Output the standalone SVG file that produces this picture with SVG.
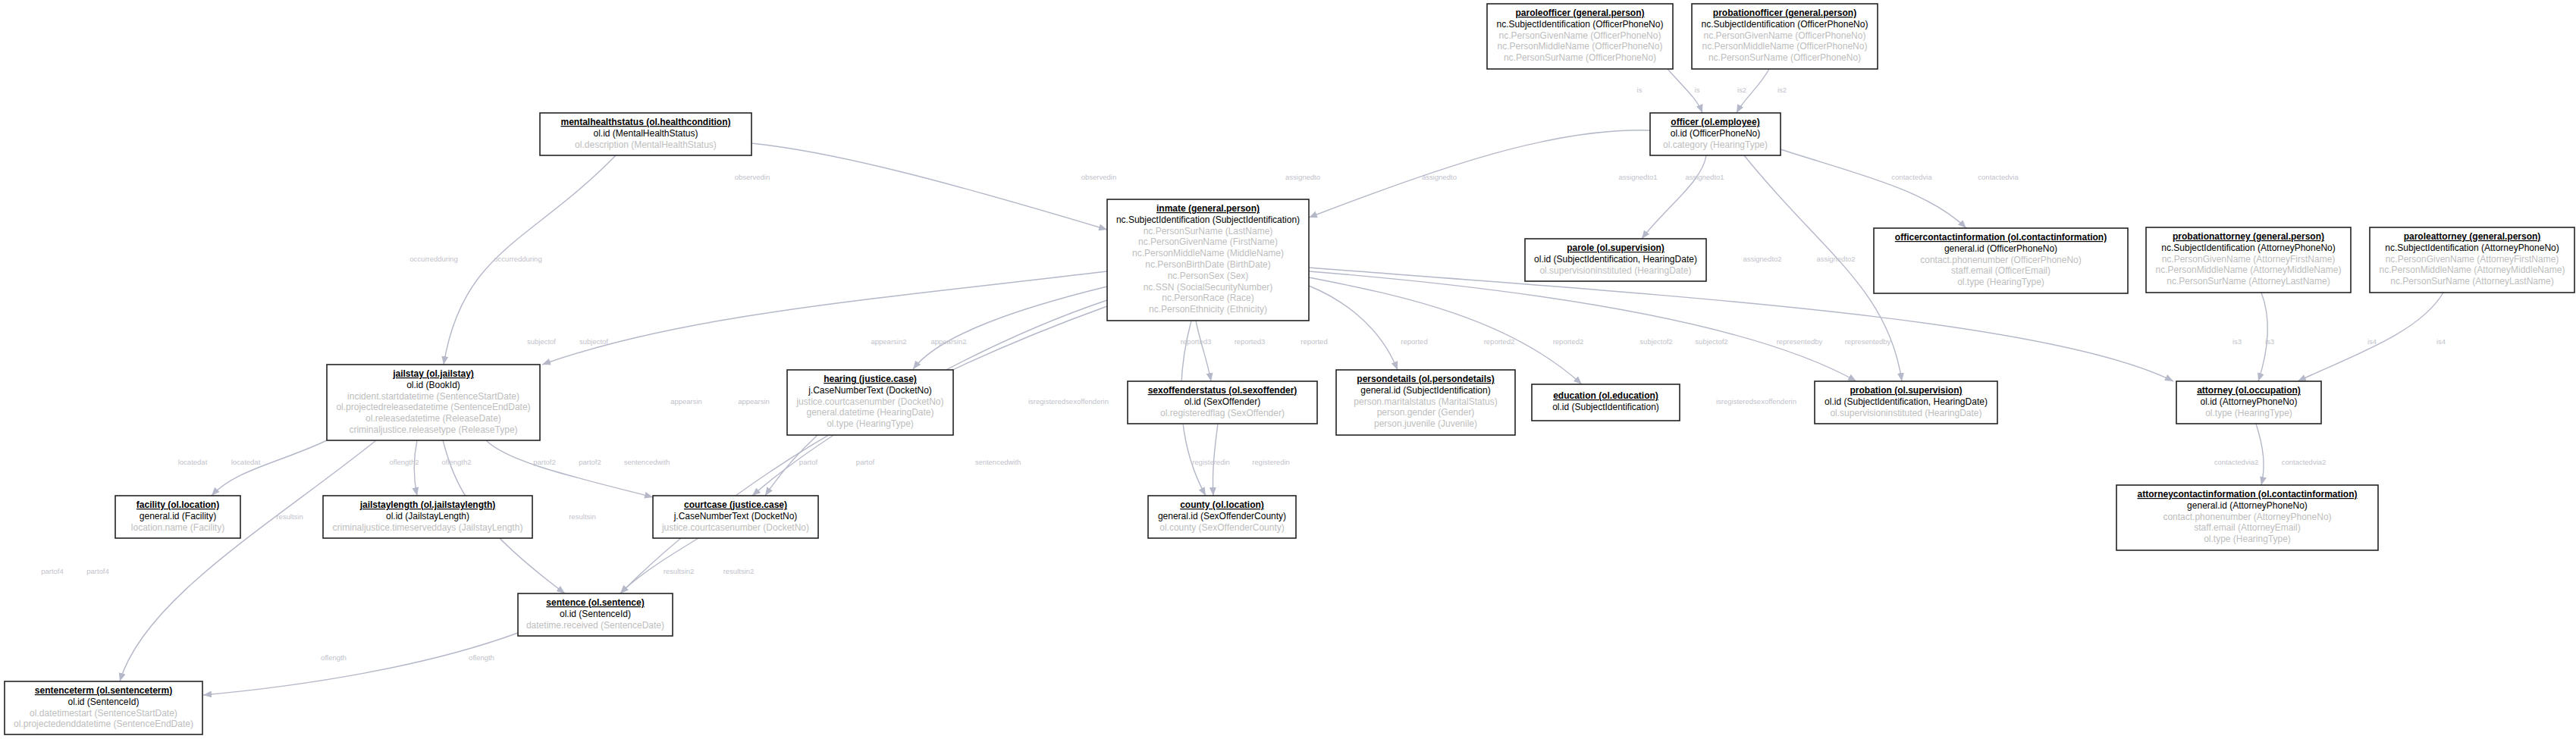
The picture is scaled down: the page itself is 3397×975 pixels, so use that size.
<svg xmlns="http://www.w3.org/2000/svg" width="3397" height="975" viewBox="0 0 3397 975">
<style>
text{font-family:"Liberation Sans",Arial,Helvetica,sans-serif;text-anchor:middle}
.box{fill:#fff;stroke:#222;stroke-width:1.6}
.t{font-size:12px;font-weight:bold;text-decoration:underline;fill:#000}
.k{font-size:12px;fill:#000}
.a{font-size:12px;fill:#bdbdbd}
.l{font-size:9.5px;fill:#bfc2cb}
.e{fill:none;stroke:#b4b8c8;stroke-width:1.4;marker-end:url(#arr)}
</style>
<defs>
<marker id="arr" markerUnits="userSpaceOnUse" markerWidth="12" markerHeight="10" refX="11" refY="4.5" orient="auto"><path d="M0,0 L11,4.5 L0,9 z" fill="#b4b8c8"/></marker>
</defs>
<rect width="3397" height="975" fill="#fff"/>
<g id="connectors">
<path class="e" d="M2199,91 C2220,115 2238,130 2245,149"/>
<path class="e" d="M2333,91 C2320,115 2300,130 2290,149"/>
<path class="e" d="M2176,172 C2050,168 1900,220 1726,287"/>
<path class="e" d="M2250,205 C2245,240 2195,275 2165,315"/>
<path class="e" d="M2300,205 C2400,330 2490,380 2508,503"/>
<path class="e" d="M2348,197 C2450,230 2540,250 2593,301"/>
<path class="e" d="M2982,386 C2995,420 2992,460 2978,503"/>
<path class="e" d="M3222,386 C3190,440 3100,470 3030,503"/>
<path class="e" d="M2975,559 C2985,590 2988,615 2982,640"/>
<path class="e" d="M812,205 C700,320 610,330 585,481"/>
<path class="e" d="M991,189 C1100,200 1250,240 1460,303"/>
<path class="e" d="M1460,358 C1150,395 900,415 715,481"/>
<path class="e" d="M1460,378 C1350,405 1240,440 1204,487"/>
<path class="e" d="M1460,396 C1300,450 1100,560 992,654"/>
<path class="e" d="M1460,404 C1250,480 1000,600 818,783"/>
<path class="e" d="M1577,423 C1582,450 1592,475 1597,503"/>
<path class="e" d="M1571,423 C1545,520 1560,600 1590,654"/>
<path class="e" d="M1606,559 C1602,590 1598,620 1600,654"/>
<path class="e" d="M1726,377 C1770,395 1820,430 1843,488"/>
<path class="e" d="M1726,366 C1850,390 1990,420 2086,507"/>
<path class="e" d="M1726,358 C2000,380 2300,420 2448,503"/>
<path class="e" d="M1726,353 C2200,390 2700,420 2866,503"/>
<path class="e" d="M431,581 C370,610 310,620 279,654"/>
<path class="e" d="M496,581 C360,690 190,790 158,899"/>
<path class="e" d="M550,581 C545,605 545,630 550,654"/>
<path class="e" d="M584,581 C600,640 620,690 745,783"/>
<path class="e" d="M641,581 C670,610 760,630 861,656"/>
<path class="e" d="M1078,574 C1050,600 1025,630 1009,654"/>
<path class="e" d="M921,710 C880,735 840,760 818,783"/>
<path class="e" d="M683,835 C560,880 400,905 268,917"/>
<text class="l" x="2162" y="122">is</text><text class="l" x="2238" y="122">is</text>
<text class="l" x="2297" y="122">is2</text><text class="l" x="2350" y="122">is2</text>
<text class="l" x="992" y="237">observedin</text><text class="l" x="1449" y="237">observedin</text>
<text class="l" x="1718" y="237">assignedto</text><text class="l" x="1898" y="237">assignedto</text>
<text class="l" x="2160" y="237">assignedto1</text><text class="l" x="2248" y="237">assignedto1</text>
<text class="l" x="2521" y="237">contactedvia</text><text class="l" x="2635" y="237">contactedvia</text>
<text class="l" x="572" y="345">occurredduring</text><text class="l" x="683" y="345">occurredduring</text>
<text class="l" x="2324" y="345">assignedto2</text><text class="l" x="2421" y="345">assignedto2</text>
<text class="l" x="714" y="454">subjectof</text><text class="l" x="783" y="454">subjectof</text>
<text class="l" x="1172" y="454">appearsin2</text><text class="l" x="1251" y="454">appearsin2</text>
<text class="l" x="1577" y="454">reported3</text><text class="l" x="1648" y="454">reported3</text>
<text class="l" x="1733" y="454">reported</text><text class="l" x="1865" y="454">reported</text>
<text class="l" x="1977" y="454">reported2</text><text class="l" x="2068" y="454">reported2</text>
<text class="l" x="2184" y="454">subjectof2</text><text class="l" x="2257" y="454">subjectof2</text>
<text class="l" x="2373" y="454">representedby</text><text class="l" x="2463" y="454">representedby</text>
<text class="l" x="2950" y="454">is3</text><text class="l" x="2993" y="454">is3</text>
<text class="l" x="3128" y="454">is4</text><text class="l" x="3219" y="454">is4</text>
<text class="l" x="905" y="533">appearsin</text><text class="l" x="994" y="533">appearsin</text>
<text class="l" x="1409" y="533">isregisteredsexoffenderin</text><text class="l" x="2316" y="533">isregisteredsexoffenderin</text>
<text class="l" x="254" y="613">locatedat</text><text class="l" x="324" y="613">locatedat</text>
<text class="l" x="533" y="613">oflength2</text><text class="l" x="602" y="613">oflength2</text>
<text class="l" x="718" y="613">partof2</text><text class="l" x="778" y="613">partof2</text>
<text class="l" x="853" y="613">sentencedwith</text><text class="l" x="1316" y="613">sentencedwith</text>
<text class="l" x="1066" y="613">partof</text><text class="l" x="1141" y="613">partof</text>
<text class="l" x="1597" y="613">registeredin</text><text class="l" x="1676" y="613">registeredin</text>
<text class="l" x="2949" y="613">contactedvia2</text><text class="l" x="3038" y="613">contactedvia2</text>
<text class="l" x="382" y="685">resultsin</text><text class="l" x="768" y="685">resultsin</text>
<text class="l" x="69" y="757">partof4</text><text class="l" x="129" y="757">partof4</text>
<text class="l" x="895" y="757">resultsin2</text><text class="l" x="974" y="757">resultsin2</text>
<text class="l" x="440" y="871">oflength</text><text class="l" x="635" y="871">oflength</text>
</g>
<g id="paroleofficer"><rect class="box" x="1961" y="5" width="245" height="86"/>
<text class="t" x="2083.5" y="21">paroleofficer (general.person)</text>
<text class="k" x="2083.5" y="36">nc.SubjectIdentification (OfficerPhoneNo)</text>
<text class="a" x="2083.5" y="51">nc.PersonGivenName (OfficerPhoneNo)</text>
<text class="a" x="2083.5" y="65">nc.PersonMiddleName (OfficerPhoneNo)</text>
<text class="a" x="2083.5" y="80">nc.PersonSurName (OfficerPhoneNo)</text></g>
<g id="probationofficer"><rect class="box" x="2231" y="5" width="245" height="86"/>
<text class="t" x="2353.5" y="21">probationofficer (general.person)</text>
<text class="k" x="2353.5" y="36">nc.SubjectIdentification (OfficerPhoneNo)</text>
<text class="a" x="2353.5" y="51">nc.PersonGivenName (OfficerPhoneNo)</text>
<text class="a" x="2353.5" y="65">nc.PersonMiddleName (OfficerPhoneNo)</text>
<text class="a" x="2353.5" y="80">nc.PersonSurName (OfficerPhoneNo)</text></g>
<g id="mentalhealthstatus"><rect class="box" x="712" y="149" width="279" height="56"/>
<text class="t" x="851.5" y="165">mentalhealthstatus (ol.healthcondition)</text>
<text class="k" x="851.5" y="180">ol.id (MentalHealthStatus)</text>
<text class="a" x="851.5" y="195">ol.description (MentalHealthStatus)</text></g>
<g id="officer"><rect class="box" x="2176" y="149" width="172" height="56"/>
<text class="t" x="2262" y="165">officer (ol.employee)</text>
<text class="k" x="2262" y="180">ol.id (OfficerPhoneNo)</text>
<text class="a" x="2262" y="195">ol.category (HearingType)</text></g>
<g id="inmate"><rect class="box" x="1460" y="263" width="266" height="160"/>
<text class="t" x="1593" y="279">inmate (general.person)</text>
<text class="k" x="1593" y="294">nc.SubjectIdentification (SubjectIdentification)</text>
<text class="a" x="1593" y="309">nc.PersonSurName (LastName)</text>
<text class="a" x="1593" y="323">nc.PersonGivenName (FirstName)</text>
<text class="a" x="1593" y="338">nc.PersonMiddleName (MiddleName)</text>
<text class="a" x="1593" y="353">nc.PersonBirthDate (BirthDate)</text>
<text class="a" x="1593" y="368">nc.PersonSex (Sex)</text>
<text class="a" x="1593" y="383">nc.SSN (SocialSecurityNumber)</text>
<text class="a" x="1593" y="397">nc.PersonRace (Race)</text>
<text class="a" x="1593" y="412">nc.PersonEthnicity (Ethnicity)</text></g>
<g id="parole"><rect class="box" x="2011" y="315" width="239" height="56"/>
<text class="t" x="2130.5" y="331">parole (ol.supervision)</text>
<text class="k" x="2130.5" y="346">ol.id (SubjectIdentification, HearingDate)</text>
<text class="a" x="2130.5" y="361">ol.supervisioninstituted (HearingDate)</text></g>
<g id="officercontactinformation"><rect class="box" x="2471" y="301" width="335" height="86"/>
<text class="t" x="2638.5" y="317">officercontactinformation (ol.contactinformation)</text>
<text class="k" x="2638.5" y="332">general.id (OfficerPhoneNo)</text>
<text class="a" x="2638.5" y="347">contact.phonenumber (OfficerPhoneNo)</text>
<text class="a" x="2638.5" y="361">staff.email (OfficerEmail)</text>
<text class="a" x="2638.5" y="376">ol.type (HearingType)</text></g>
<g id="probationattorney"><rect class="box" x="2830" y="300" width="270" height="86"/>
<text class="t" x="2965" y="316">probationattorney (general.person)</text>
<text class="k" x="2965" y="331">nc.SubjectIdentification (AttorneyPhoneNo)</text>
<text class="a" x="2965" y="346">nc.PersonGivenName (AttorneyFirstName)</text>
<text class="a" x="2965" y="360">nc.PersonMiddleName (AttorneyMiddleName)</text>
<text class="a" x="2965" y="375">nc.PersonSurName (AttorneyLastName)</text></g>
<g id="paroleattorney"><rect class="box" x="3125" y="300" width="270" height="86"/>
<text class="t" x="3260" y="316">paroleattorney (general.person)</text>
<text class="k" x="3260" y="331">nc.SubjectIdentification (AttorneyPhoneNo)</text>
<text class="a" x="3260" y="346">nc.PersonGivenName (AttorneyFirstName)</text>
<text class="a" x="3260" y="360">nc.PersonMiddleName (AttorneyMiddleName)</text>
<text class="a" x="3260" y="375">nc.PersonSurName (AttorneyLastName)</text></g>
<g id="jailstay"><rect class="box" x="431" y="481" width="281" height="100"/>
<text class="t" x="571.5" y="497">jailstay (ol.jailstay)</text>
<text class="k" x="571.5" y="512">ol.id (BookId)</text>
<text class="a" x="571.5" y="527">incident.startdatetime (SentenceStartDate)</text>
<text class="a" x="571.5" y="541">ol.projectedreleasedatetime (SentenceEndDate)</text>
<text class="a" x="571.5" y="556">ol.releasedatetime (ReleaseDate)</text>
<text class="a" x="571.5" y="571">criminaljustice.releasetype (ReleaseType)</text></g>
<g id="hearing"><rect class="box" x="1038" y="488" width="219" height="86"/>
<text class="t" x="1147.5" y="504">hearing (justice.case)</text>
<text class="k" x="1147.5" y="519">j.CaseNumberText (DocketNo)</text>
<text class="a" x="1147.5" y="534">justice.courtcasenumber (DocketNo)</text>
<text class="a" x="1147.5" y="548">general.datetime (HearingDate)</text>
<text class="a" x="1147.5" y="563">ol.type (HearingType)</text></g>
<g id="sexoffenderstatus"><rect class="box" x="1487" y="503" width="250" height="56"/>
<text class="t" x="1612" y="519">sexoffenderstatus (ol.sexoffender)</text>
<text class="k" x="1612" y="534">ol.id (SexOffender)</text>
<text class="a" x="1612" y="549">ol.registeredflag (SexOffender)</text></g>
<g id="persondetails"><rect class="box" x="1762" y="488" width="236" height="86"/>
<text class="t" x="1880" y="504">persondetails (ol.persondetails)</text>
<text class="k" x="1880" y="519">general.id (SubjectIdentification)</text>
<text class="a" x="1880" y="534">person.maritalstatus (MaritalStatus)</text>
<text class="a" x="1880" y="548">person.gender (Gender)</text>
<text class="a" x="1880" y="563">person.juvenile (Juvenile)</text></g>
<g id="education"><rect class="box" x="2020" y="507" width="195" height="48"/>
<text class="t" x="2117.5" y="526">education (ol.education)</text>
<text class="k" x="2117.5" y="541">ol.id (SubjectIdentification)</text></g>
<g id="probation"><rect class="box" x="2393" y="503" width="241" height="56"/>
<text class="t" x="2513.5" y="519">probation (ol.supervision)</text>
<text class="k" x="2513.5" y="534">ol.id (SubjectIdentification, HearingDate)</text>
<text class="a" x="2513.5" y="549">ol.supervisioninstituted (HearingDate)</text></g>
<g id="attorney"><rect class="box" x="2870" y="503" width="191" height="56"/>
<text class="t" x="2965.5" y="519">attorney (ol.occupation)</text>
<text class="k" x="2965.5" y="534">ol.id (AttorneyPhoneNo)</text>
<text class="a" x="2965.5" y="549">ol.type (HearingType)</text></g>
<g id="facility"><rect class="box" x="152" y="654" width="165" height="56"/>
<text class="t" x="234.5" y="670">facility (ol.location)</text>
<text class="k" x="234.5" y="685">general.id (Facility)</text>
<text class="a" x="234.5" y="700">location.name (Facility)</text></g>
<g id="jailstaylength"><rect class="box" x="426" y="654" width="276" height="56"/>
<text class="t" x="564" y="670">jailstaylength (ol.jailstaylength)</text>
<text class="k" x="564" y="685">ol.id (JailstayLength)</text>
<text class="a" x="564" y="700">criminaljustice.timeserveddays (JailstayLength)</text></g>
<g id="courtcase"><rect class="box" x="861" y="654" width="218" height="56"/>
<text class="t" x="970" y="670">courtcase (justice.case)</text>
<text class="k" x="970" y="685">j.CaseNumberText (DocketNo)</text>
<text class="a" x="970" y="700">justice.courtcasenumber (DocketNo)</text></g>
<g id="county"><rect class="box" x="1514" y="654" width="195" height="56"/>
<text class="t" x="1611.5" y="670">county (ol.location)</text>
<text class="k" x="1611.5" y="685">general.id (SexOffenderCounty)</text>
<text class="a" x="1611.5" y="700">ol.county (SexOffenderCounty)</text></g>
<g id="attorneycontactinformation"><rect class="box" x="2791" y="640" width="345" height="86"/>
<text class="t" x="2963.5" y="656">attorneycontactinformation (ol.contactinformation)</text>
<text class="k" x="2963.5" y="671">general.id (AttorneyPhoneNo)</text>
<text class="a" x="2963.5" y="686">contact.phonenumber (AttorneyPhoneNo)</text>
<text class="a" x="2963.5" y="700">staff.email (AttorneyEmail)</text>
<text class="a" x="2963.5" y="715">ol.type (HearingType)</text></g>
<g id="sentence"><rect class="box" x="683" y="783" width="204" height="56"/>
<text class="t" x="785" y="799">sentence (ol.sentence)</text>
<text class="k" x="785" y="814">ol.id (SentenceId)</text>
<text class="a" x="785" y="829">datetime.received (SentenceDate)</text></g>
<g id="sentenceterm"><rect class="box" x="6" y="899" width="261" height="70"/>
<text class="t" x="136.5" y="915">sentenceterm (ol.sentenceterm)</text>
<text class="k" x="136.5" y="930">ol.id (SentenceId)</text>
<text class="a" x="136.5" y="945">ol.datetimestart (SentenceStartDate)</text>
<text class="a" x="136.5" y="959">ol.projectedenddatetime (SentenceEndDate)</text></g>
</svg>
